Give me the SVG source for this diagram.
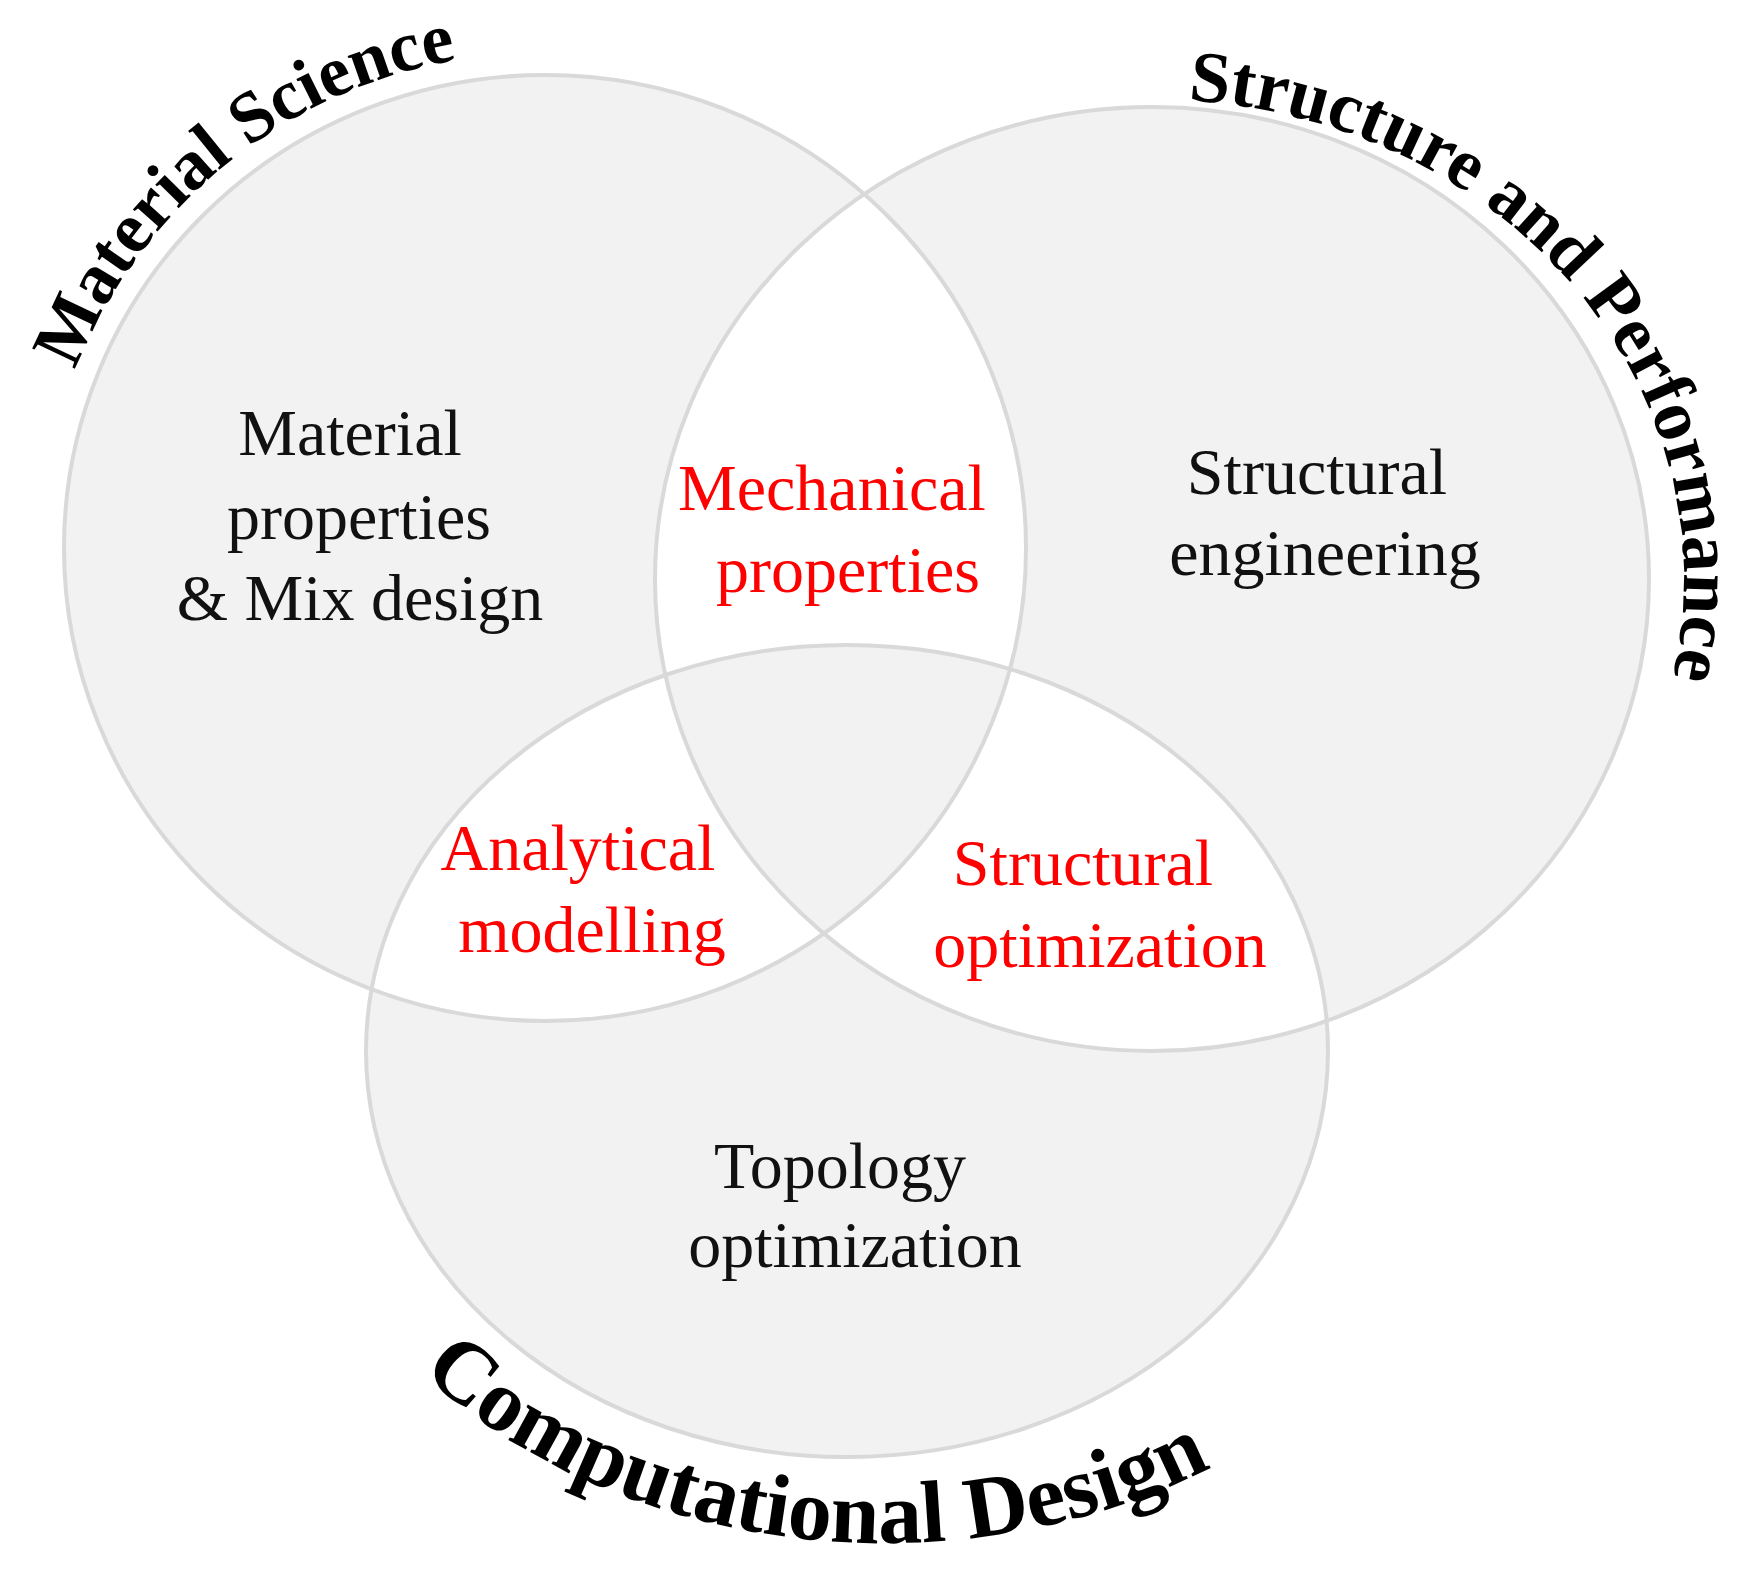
<svg xmlns="http://www.w3.org/2000/svg" xmlns:xlink="http://www.w3.org/1999/xlink" width="1757" height="1570" viewBox="0 0 1757 1570">
<style>
.ring{fill:none;stroke:#d9d9d9;stroke-width:4}
.lbl{font-family:"Liberation Serif","Times New Roman",serif;font-size:66px;text-anchor:middle}
.blk{fill:#111111}
.red{fill:#ff0000}
.title{font-family:"Liberation Serif","Times New Roman",serif;font-weight:bold;fill:#000000}
</style>
<defs>
<path id="arcL" d="M 75.4 370.2 A 503 496 0 0 1 717 82"/>
<path id="arcR" d="M 1188 100.3 A 532 480 0 0 1 1559.5 887.6"/>
<path id="arcB" d="M 421.6 1372.5 A 612 492 0 0 0 1415 1297"/>
</defs>
<rect width="1757" height="1570" fill="#ffffff"/>
<g id="venn-fill">
<path fill="#f2f2f2" fill-rule="evenodd" d="M 64 548 A 481 473 0 1 0 1026 548 A 481 473 0 1 0 64 548 Z M 655 579 A 497 472 0 1 0 1649 579 A 497 472 0 1 0 655 579 Z M 366 1051 A 481 406 0 1 0 1328 1051 A 481 406 0 1 0 366 1051 Z"/>
</g>
<g id="connectors"></g>
<g id="material-science">
<ellipse class="ring" cx="545" cy="548" rx="481" ry="473"/>
<text class="title" font-size="72"><textPath xlink:href="#arcL" href="#arcL">Material Science</textPath></text>
<text class="lbl blk" x="350" y="455">Material</text>
<text class="lbl blk" x="359" y="539">properties</text>
<text class="lbl blk" x="360" y="620">&amp; Mix design</text>
</g>
<g id="structure-performance">
<ellipse class="ring" cx="1152" cy="579" rx="497" ry="472"/>
<text class="title" font-size="73"><textPath xlink:href="#arcR" href="#arcR">Structure and Performance</textPath></text>
<text class="lbl blk" x="1317" y="494">Structural</text>
<text class="lbl blk" x="1325" y="575">engineering</text>
</g>
<g id="computational-design">
<ellipse class="ring" cx="847" cy="1051" rx="481" ry="406"/>
<text class="title" font-size="88"><textPath xlink:href="#arcB" href="#arcB">Computational Design</textPath></text>
<text class="lbl blk" x="840" y="1188">Topology</text>
<text class="lbl blk" x="855" y="1267">optimization</text>
</g>
<g id="mechanical-properties">
<text class="lbl red" x="832" y="510">Mechanical</text>
<text class="lbl red" x="848" y="592">properties</text>
</g>
<g id="analytical-modelling">
<text class="lbl red" x="578" y="870">Analytical</text>
<text class="lbl red" x="592" y="952">modelling</text>
</g>
<g id="structural-optimization">
<text class="lbl red" x="1083" y="885">Structural</text>
<text class="lbl red" x="1100" y="967">optimization</text>
</g>
</svg>
